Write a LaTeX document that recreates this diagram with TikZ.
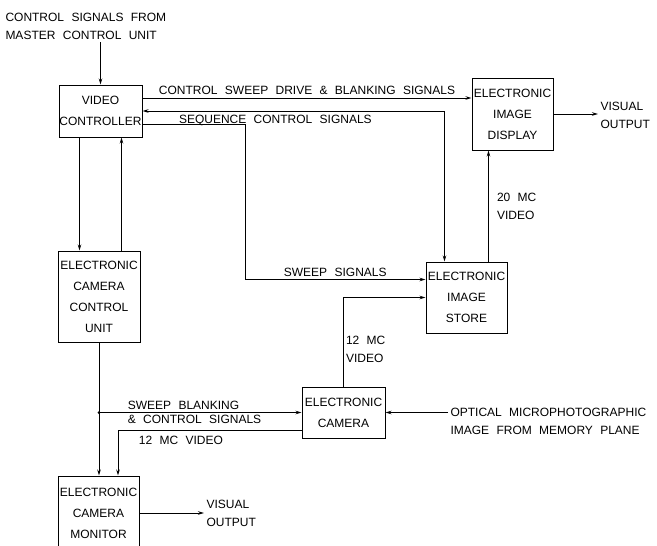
\documentclass[tikz,border=0pt]{standalone}
\usepackage{fontspec}
\setmainfont{Liberation Sans}[WordSpace=2.2]
\usetikzlibrary{arrows.meta}

\tikzset{
  blk/.style={draw, inner sep=0pt, align=center},
  lbl/.style={inner sep=2pt, align=left, font=\fontsize{12}{18}\selectfont},
}

\begin{document}
\begin{tikzpicture}[x=1pt, y=-1pt, line width=1pt,
    >={Stealth[length=6pt, width=3.5pt]},
    font=\fontsize{12}{21}\selectfont]
  \useasboundingbox (0,0) rectangle (657,546);

  % blocks
  \node[blk, minimum width=83pt, minimum height=52pt] (vc) at (100.5,111) {VIDEO\\CONTROLLER};
  \node[blk, minimum width=81pt, minimum height=72pt] (eid) at (512.5,114) {ELECTRONIC\\IMAGE\\DISPLAY};
  \node[blk, minimum width=81pt, minimum height=71pt] (eis) at (466.5,297.5) {ELECTRONIC\\IMAGE\\STORE};
  \node[blk, minimum width=82pt, minimum height=91pt] (eccu) at (99,296.5) {ELECTRONIC\\CAMERA\\CONTROL\\UNIT};
  \node[blk, minimum width=83pt, minimum height=51pt] (ecam) at (343.5,412.5) {ELECTRONIC\\CAMERA};
  \node[blk, minimum width=81pt, minimum height=74pt] (ecm) at (98.5,513) {ELECTRONIC\\CAMERA\\MONITOR};

  % outside texts
  \node[lbl, anchor=north west] (mcu) at (3,11) {CONTROL SIGNALS FROM\\MASTER CONTROL UNIT};
  \node[lbl, anchor=north west] (opt) at (448,406) {OPTICAL MICROPHOTOGRAPHIC\\IMAGE FROM MEMORY PLANE};
  \node[lbl, anchor=west] (vis1) at (598,115.5) {VISUAL\\OUTPUT};
  \node[lbl, anchor=west] (vis2) at (204,513) {VISUAL\\OUTPUT};

  % video controller
  \draw[->] (vc.north |- mcu.south) -- (vc.north);
  \coordinate (drv) at ([yshift=13pt]vc.east);
  \draw[->] (drv) -- (drv -| eid.west)
    node[midway, above=1pt, lbl] {CONTROL SWEEP DRIVE \& BLANKING SIGNALS};
  \coordinate (seq) at ([xshift=-22pt]eis.north);
  \draw[<->] (vc.east) -| (seq)
    node[pos=0.22, below, yshift=-1.5pt, lbl] {SEQUENCE CONTROL SIGNALS};
  \coordinate (swp) at ([yshift=-13pt]vc.east);
  \coordinate (swpin) at ([yshift=18pt]eis.west);
  \coordinate (swpx) at (245,0);
  \draw[->] (swp) -| (swpx |- swpin) -- (swpin)
    node[midway, above, lbl] {SWEEP SIGNALS};

  % image store and display
  \coordinate (vid) at ([xshift=22pt]eis.north);
  \draw[->] (vid) -- (vid |- eid.south)
    node[midway, right=6pt, lbl] {20 MC\\VIDEO};
  \draw[->] (eid.east) -- (eid.east -| vis1.west);

  % camera
  \draw[->] (ecam.north) |- (eis.west)
    node[pos=0.21, right, lbl] {12 MC\\VIDEO};
  \draw[->] (ecam.east -| opt.west) -- (ecam.east);

  % camera control unit
  \coordinate (cdn) at ([xshift=-21pt]vc.south);
  \coordinate (cup) at ([xshift=21pt]vc.south);
  \draw[->] (cdn) -- (cdn |- eccu.north);
  \draw[<-] (cup) -- (cup |- eccu.north);
  \draw[->] (eccu.south) -- (eccu.south |- ecm.north);
  \coordinate (jn) at (eccu.south |- ecam.west);
  \fill (jn) circle (1.5pt);
  \draw[->] (jn) -- (ecam.west)
    node[pos=0.13, above right, lbl] {SWEEP BLANKING}
    node[pos=0.13, below right, lbl] {\& CONTROL SIGNALS};

  % monitor
  \coordinate (mvid) at ([yshift=-18pt]ecam.west);
  \coordinate (mvin) at ([xshift=19.5pt]ecm.north);
  \draw[->] (mvid) -| (mvin)
    node[pos=0.45, below right, yshift=-3pt, lbl] {12 MC VIDEO};
  \draw[->] (ecm.east) -- (ecm.east -| vis2.west);
\end{tikzpicture}
\end{document}
